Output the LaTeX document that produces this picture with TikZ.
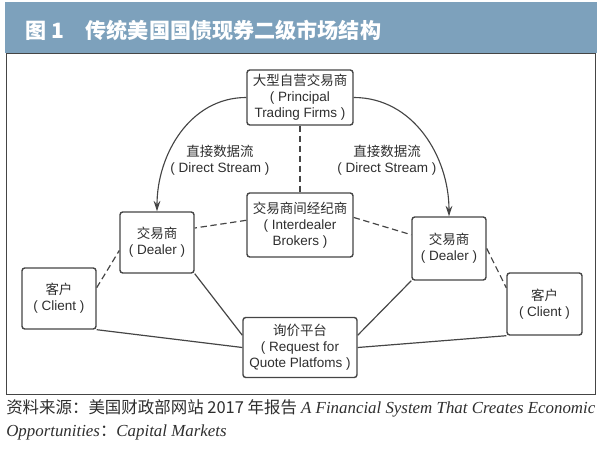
\documentclass[tikz,border=0pt]{standalone}
\usepackage{fontspec}
\setmainfont{Liberation Serif}
\setsansfont{Liberation Sans}
\newfontfamily\cjk{Noto Sans CJK SC}
\usepackage{tikz}
\usetikzlibrary{arrows.meta, calc}
\definecolor{barblue}{HTML}{7DA1BC}
\definecolor{linegray}{HTML}{454545}
\definecolor{textgray}{HTML}{2E2E2E}
\newcommand{\zh}[1]{{\cjk #1}}
\newcommand{\zhfuente}[1]{{\cjk\fontsize{11.7}{14}\selectfont #1}}
\tikzset{
  caja/.style={rectangle, rounded corners=2pt, draw=linegray, line width=1pt, inner sep=0pt, align=center, text=textgray, font=\sffamily\fontsize{9.6}{11.4}\selectfont},
  etiqueta/.style={align=center, text=textgray, font=\sffamily\fontsize{9.6}{11.4}\selectfont},
  flecha/.style={-{Stealth[length=2.6mm, width=1.7mm]}, draw=linegray, line width=0.8pt},
  trazo/.style={draw=linegray, line width=0.85pt, dash pattern=on 4.5pt off 2.6pt},
  enlace/.style={draw=linegray, line width=0.85pt}
}

\begin{document}
\begin{tikzpicture}[x=0.025cm, y=-0.025cm]
            \useasboundingbox (0,0) rectangle (600,457);

            % Titulo
            \fill[barblue] (5,2) rectangle (597,53);
            \node[anchor=west, text=white, font=\fontsize{15}{18}\selectfont] (titulo) at (21,30) {\zh{\bfseries 图 1\quad 传统美国国债现券二级市场结构}};
            \draw[linegray, line width=0.7pt] (6,53) rectangle (595.5,394);

            % Principal trading firms
            \node[caja, minimum width=2.65cm, minimum height=1.375cm] (ptf) at (300,97.5) {\zh{大型自营交易商}\\( Principal\\Trading Firms )};

            % Interdealer brokers
            \node[caja, minimum width=2.65cm, minimum height=1.6cm] (idb) at (300,225) {\zh{交易商间经纪商}\\( Interdealer\\Brokers )};

            % Dealers
            \node[caja, minimum width=1.85cm, minimum height=1.525cm] (dealer_izq) at (157,242.5) {\zh{交易商}\\( Dealer )};
            \node[caja, minimum width=1.85cm, minimum height=1.575cm] (dealer_der) at (449,248.5) {\zh{交易商}\\( Dealer )};

            % Clients
            \node[caja, minimum width=1.85cm, minimum height=1.525cm] (cliente_izq) at (59,298.5) {\zh{客户}\\( Client )};
            \node[caja, minimum width=1.875cm, minimum height=1.55cm] (cliente_der) at (544.5,304) {\zh{客户}\\( Client )};

            % RFQ platforms
            \node[caja, minimum width=2.85cm, minimum height=1.5cm] (rfq) at (300,347.5) {\zh{询价平台}\\( Request for\\Quote Platfoms )};

            % Direct stream
            \node[etiqueta] (stream_izq) at (220,160) {\zh{直接数据流}\\( Direct Stream )};
            \node[etiqueta] (stream_der) at (387,160) {\zh{直接数据流}\\( Direct Stream )};

            % Flechas principales
            \draw[flecha] (ptf.west) to[out=180, in=90] (dealer_izq.north);
            \draw[flecha] (ptf.east) to[out=0, in=90] (dealer_der.north);

            % Lineas discontinuas
            \draw[trazo] (ptf.south) -- (idb.north);
            \draw[trazo] (idb.175) -- (dealer_izq.21);
            \draw[trazo] (idb.8) -- (dealer_der.160);
            \draw[trazo] (cliente_izq.16) -- (dealer_izq.192);
            \draw[trazo] (dealer_der.east) -- (cliente_der.157);

            % Lineas continuas
            \draw[enlace] (dealer_izq.south east) -- (rfq.168);
            \draw[enlace] (cliente_izq.south east) -- (rfq.west);
            \draw[enlace] (dealer_der.south west) -- (rfq.12);
            \draw[enlace] (cliente_der.south west) -- (rfq.east);

            % Fuente
            \node[anchor=west, inner sep=0pt, text=textgray, font=\fontsize{12}{14}\selectfont] (fuente1) at (6,408) {\zhfuente{资料来源：美国财政部网站 2017 年报告} \itshape A Financial System That Creates Economic};
            \node[anchor=west, inner sep=0pt, text=textgray, font=\fontsize{12}{14}\selectfont] (fuente2) at (6,432) {\itshape Opportunities\zhfuente{：}Capital Markets};

        \end{tikzpicture}
\end{document}
